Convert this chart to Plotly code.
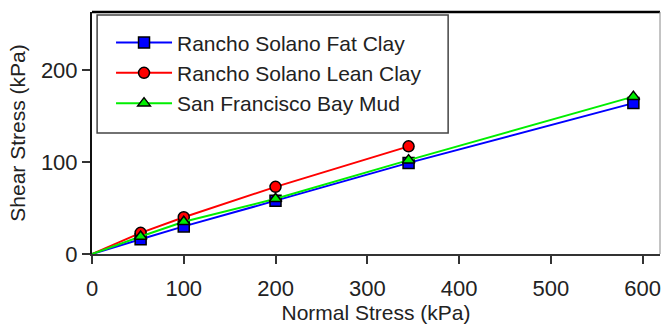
import plotly.graph_objects as go

fat_x = [53, 100, 200, 345, 590]
fat_y = [16, 30, 58, 99, 164]
lean_x = [53, 100, 200, 345]
lean_y = [23, 40, 73, 117]
mud_x = [53, 100, 200, 345, 590]
mud_y = [19, 35, 60, 102, 171]

names = ["Rancho Solano Fat Clay", "Rancho Solano Lean Clay", "San Francisco Bay Mud"]
colors = ["#0000ff", "#ff0000", "#00ee00"]
symbols = ["square", "circle", "triangle-up"]
series = [(fat_x, fat_y), (lean_x, lean_y), (mud_x, mud_y)]

FONT = "Liberation Sans, Arial, sans-serif"

fig = go.Figure()
for (xs, ys), n, c, s in zip(series, names, colors, symbols):
    # segment from origin to the first point
    fig.add_trace(go.Scatter(x=[0, xs[0]], y=[0, ys[0]], mode="lines",
                             line=dict(color=c, width=2), showlegend=False,
                             hoverinfo="skip"))
for (xs, ys), n, c, s in zip(series, names, colors, symbols):
    fig.add_trace(go.Scatter(x=xs, y=ys, mode="lines+markers", name=n,
                             line=dict(color=c, width=2),
                             marker=dict(symbol=s, size=11, color=c,
                                         line=dict(color="black", width=1.5))))

fig.update_layout(
    width=662, height=325,
    margin=dict(l=92, r=2, t=12, b=71),
    paper_bgcolor="white", plot_bgcolor="white",
    font=dict(family=FONT, size=21, color="#222222"),
    showlegend=True,
    legend=dict(x=0.0335, y=0.957, xanchor="left", yanchor="top",
                bgcolor="rgba(0,0,0,0)", borderwidth=0,
                font=dict(size=21), itemwidth=56),
    xaxis=dict(range=[0, 619], tickvals=[0, 100, 200, 300, 400, 500, 600],
               showgrid=False, zeroline=False, showline=True,
               linecolor="#333333", linewidth=2, ticks="outside", ticklen=8,
               tickcolor="#333333", tickwidth=2, ticklabelstandoff=6,
               tickfont=dict(size=22),
               title=dict(text="Normal Stress (kPa)", standoff=3,
                          font=dict(size=21))),
    yaxis=dict(range=[0, 263], tickvals=[0, 100, 200],
               showgrid=False, zeroline=False, showline=True,
               linecolor="#111111", linewidth=2, ticks="outside", ticklen=8,
               tickcolor="#333333", tickwidth=2, ticklabelstandoff=0,
               tickfont=dict(size=22),
               title=dict(text="Shear Stress (kPa)", standoff=10,
                          font=dict(size=21))),
    shapes=[
        dict(type="line", xref="paper", yref="paper", x0=0, x1=1, y0=1, y1=1,
             line=dict(color="black", width=2.5)),
        dict(type="line", xref="paper", yref="paper", x0=1, x1=1, y0=0, y1=1,
             line=dict(color="#888888", width=1)),
        dict(type="rect", xref="paper", yref="paper", x0=0.009, x1=0.627,
             y0=0.500, y1=0.988, line=dict(color="#444444", width=1.5)),
    ],
)

fig.write_html("out.html")
